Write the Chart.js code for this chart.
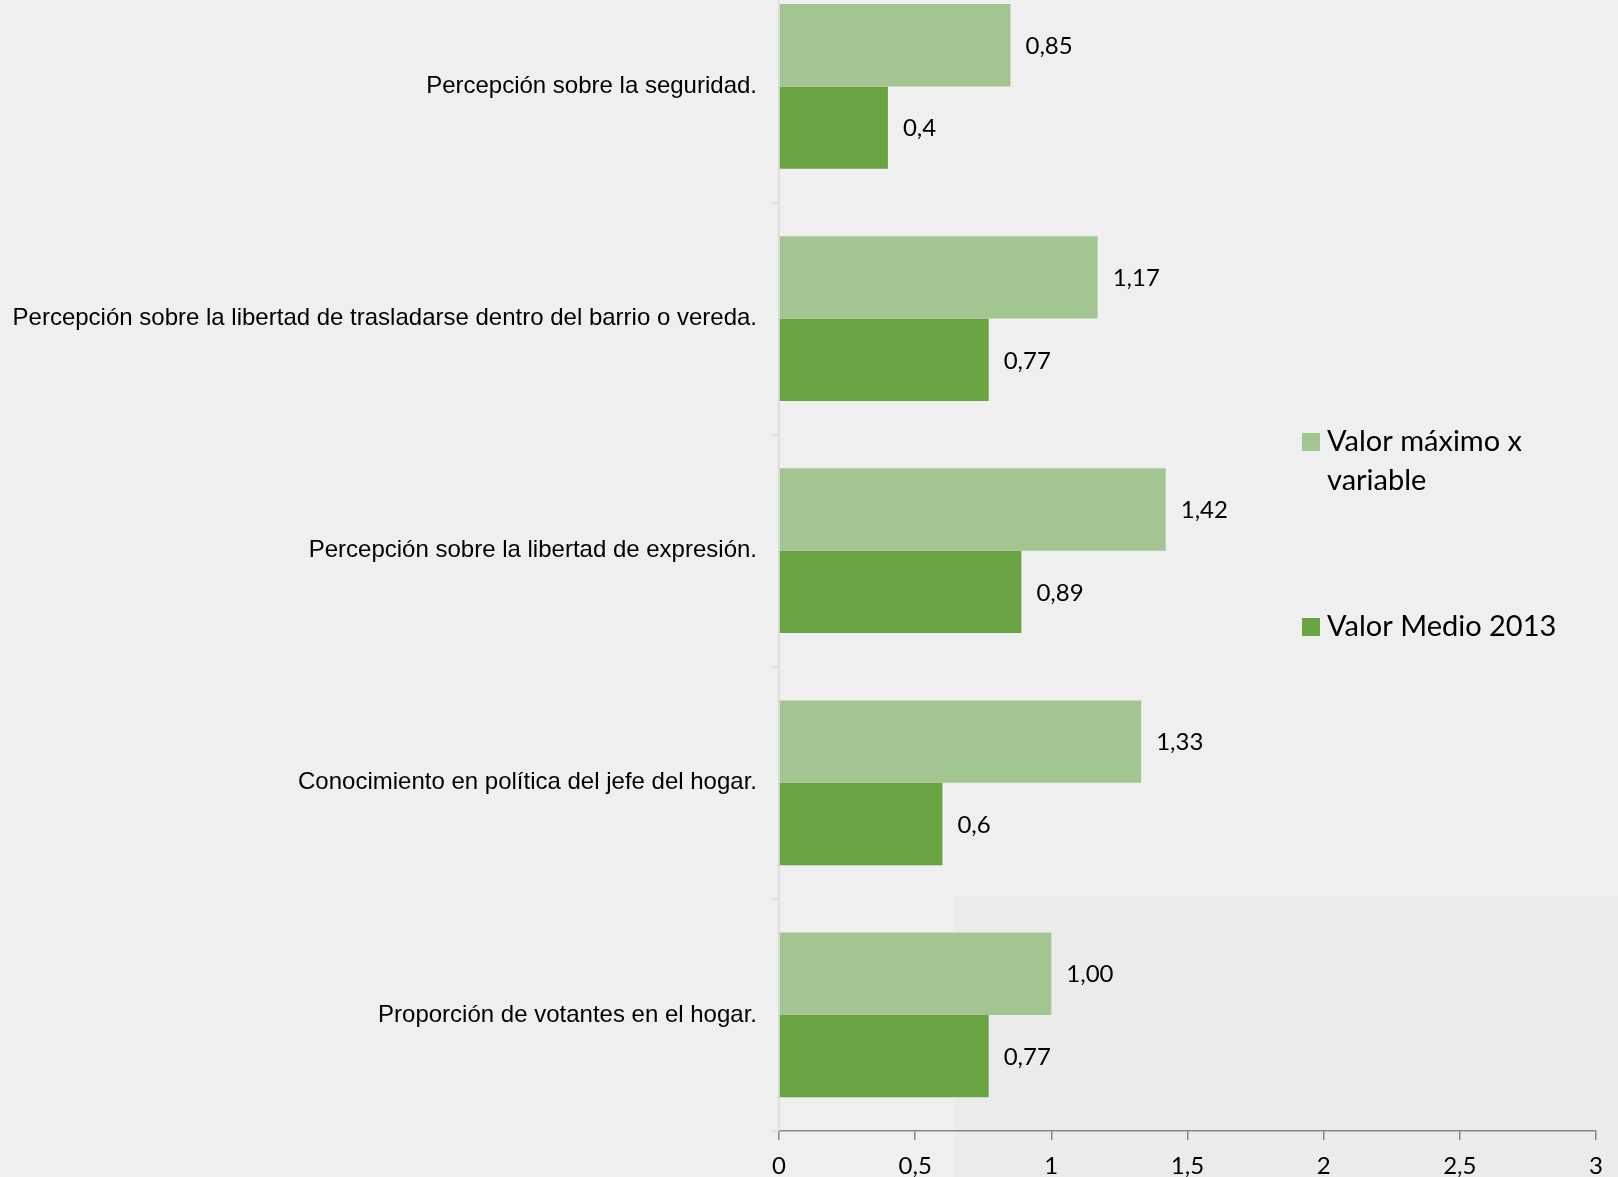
<!DOCTYPE html>
<html>
<head>
<meta charset="utf-8">
<script src="https://cdn.jsdelivr.net/npm/chart.js@4/dist/chart.umd.min.js"></script>
<style>
    body { margin: 0; background: #efefef; overflow: hidden; width: 1618px; height: 1177px; position: relative; }
    #shade { position: absolute; left: 955px; top: 896px; right: 0; bottom: 0; background: #ebebeb; }
    #chart { position: absolute; left: 0; top: -59px; }
</style>
</head>
<body>
<div id="shade"></div>
<canvas id="chart" width="1618" height="1236"></canvas>
<script>
// Data
const categories = [
    "Percepción sobre la seguridad.",
    "Percepción sobre la libertad de trasladarse dentro del barrio o vereda.",
    "Percepción sobre la libertad de expresión.",
    "Conocimiento en política del jefe del hogar.",
    "Proporción de votantes en el hogar."
];
const maxValues = [0.85, 1.17, 1.42, 1.33, 1.00];
const meanValues = [0.4, 0.77, 0.89, 0.6, 0.77];
const maxLabels = ["0,85", "1,17", "1,42", "1,33", "1,00"];
const meanLabels = ["0,4", "0,77", "0,89", "0,6", "0,77"];
const xTickLabels = ["0", "0,5", "1", "1,5", "2", "2,5", "3"];

const lightGreen = "#a3c591";
const darkGreen = "#69a342";

// Value labels at the end of each bar
const valueLabels = {
    id: "valueLabels",
    afterDatasetsDraw(chart) {
        let ctx = chart.ctx;
        ctx.save();
        ctx.font = "24px Lato";
        ctx.fillStyle = "#000";
        ctx.textAlign = "left";
        ctx.textBaseline = "middle";
        chart.data.datasets.forEach((ds, i) => {
            chart.getDatasetMeta(i).data.forEach((bar, j) => {
                ctx.fillText(ds.valueText[j], bar.x + 15, bar.y + 1);
            });
        });
        ctx.restore();
    }
};

// Legend on the right, wrapped like the original
const sideLegend = {
    id: "sideLegend",
    afterDraw(chart) {
        let ctx = chart.ctx;
        let tops = [501, 686];
        ctx.save();
        ctx.font = "29px Lato";
        ctx.textBaseline = "middle";
        ctx.textAlign = "left";
        chart.data.datasets.forEach((ds, i) => {
            let words = ds.label.split(" ");
            let lines = [];
            let line = "";
            words.forEach(w => {
                let test = line ? line + " " + w : w;
                if (ctx.measureText(test).width > 270 && line) {
                    lines.push(line);
                    line = w;
                } else {
                    line = test;
                }
            });
            lines.push(line);
            ctx.fillStyle = ds.backgroundColor;
            ctx.fillRect(1302, tops[i] - 9, 18, 18);
            ctx.fillStyle = "#000";
            lines.forEach((l, k) => ctx.fillText(l, 1327, tops[i] + k * 39));
        });
        ctx.restore();
    }
};

new Chart(document.getElementById("chart"), {
    type: "bar",
    data: {
        labels: categories,
        datasets: [{
            label: "Valor máximo x variable",
            data: maxValues,
            valueText: maxLabels,
            backgroundColor: lightGreen
        }, {
            label: "Valor Medio 2013",
            data: meanValues,
            valueText: meanLabels,
            backgroundColor: darkGreen
        }]
    },
    options: {
        indexAxis: "y",
        responsive: false,
        animation: false,
        devicePixelRatio: 1,
        categoryPercentage: 0.71,
        barPercentage: 1,
        layout: { padding: { top: 0, right: 22, bottom: 0, left: 0 } },
        plugins: {
            legend: { display: false },
            tooltip: { enabled: false }
        },
        scales: {
            x: {
                min: 0,
                max: 3,
                ticks: {
                    stepSize: 0.5,
                    color: "#000",
                    font: { family: "Lato", size: 24 },
                    padding: 12,
                    callback: (v, i) => xTickLabels[i]
                },
                grid: { drawOnChartArea: false, tickLength: 9, color: "#868686", lineWidth: 1.5 },
                border: { color: "#868686", width: 1.5 },
                afterFit: scale => { scale.height = 46; }
            },
            y: {
                ticks: {
                    color: "#000",
                    font: { family: "Liberation Sans", size: 24 },
                    padding: 15,
                    autoSkip: false
                },
                grid: { drawOnChartArea: false, offset: true, tickLength: 7, color: "#d9d9d9", lineWidth: 1.5 },
                border: { color: "#d9d9d9", width: 1.5 },
                afterFit: scale => { scale.width = 779; }
            }
        }
    },
    plugins: [valueLabels, sideLegend]
});
</script>
</body>
</html>
